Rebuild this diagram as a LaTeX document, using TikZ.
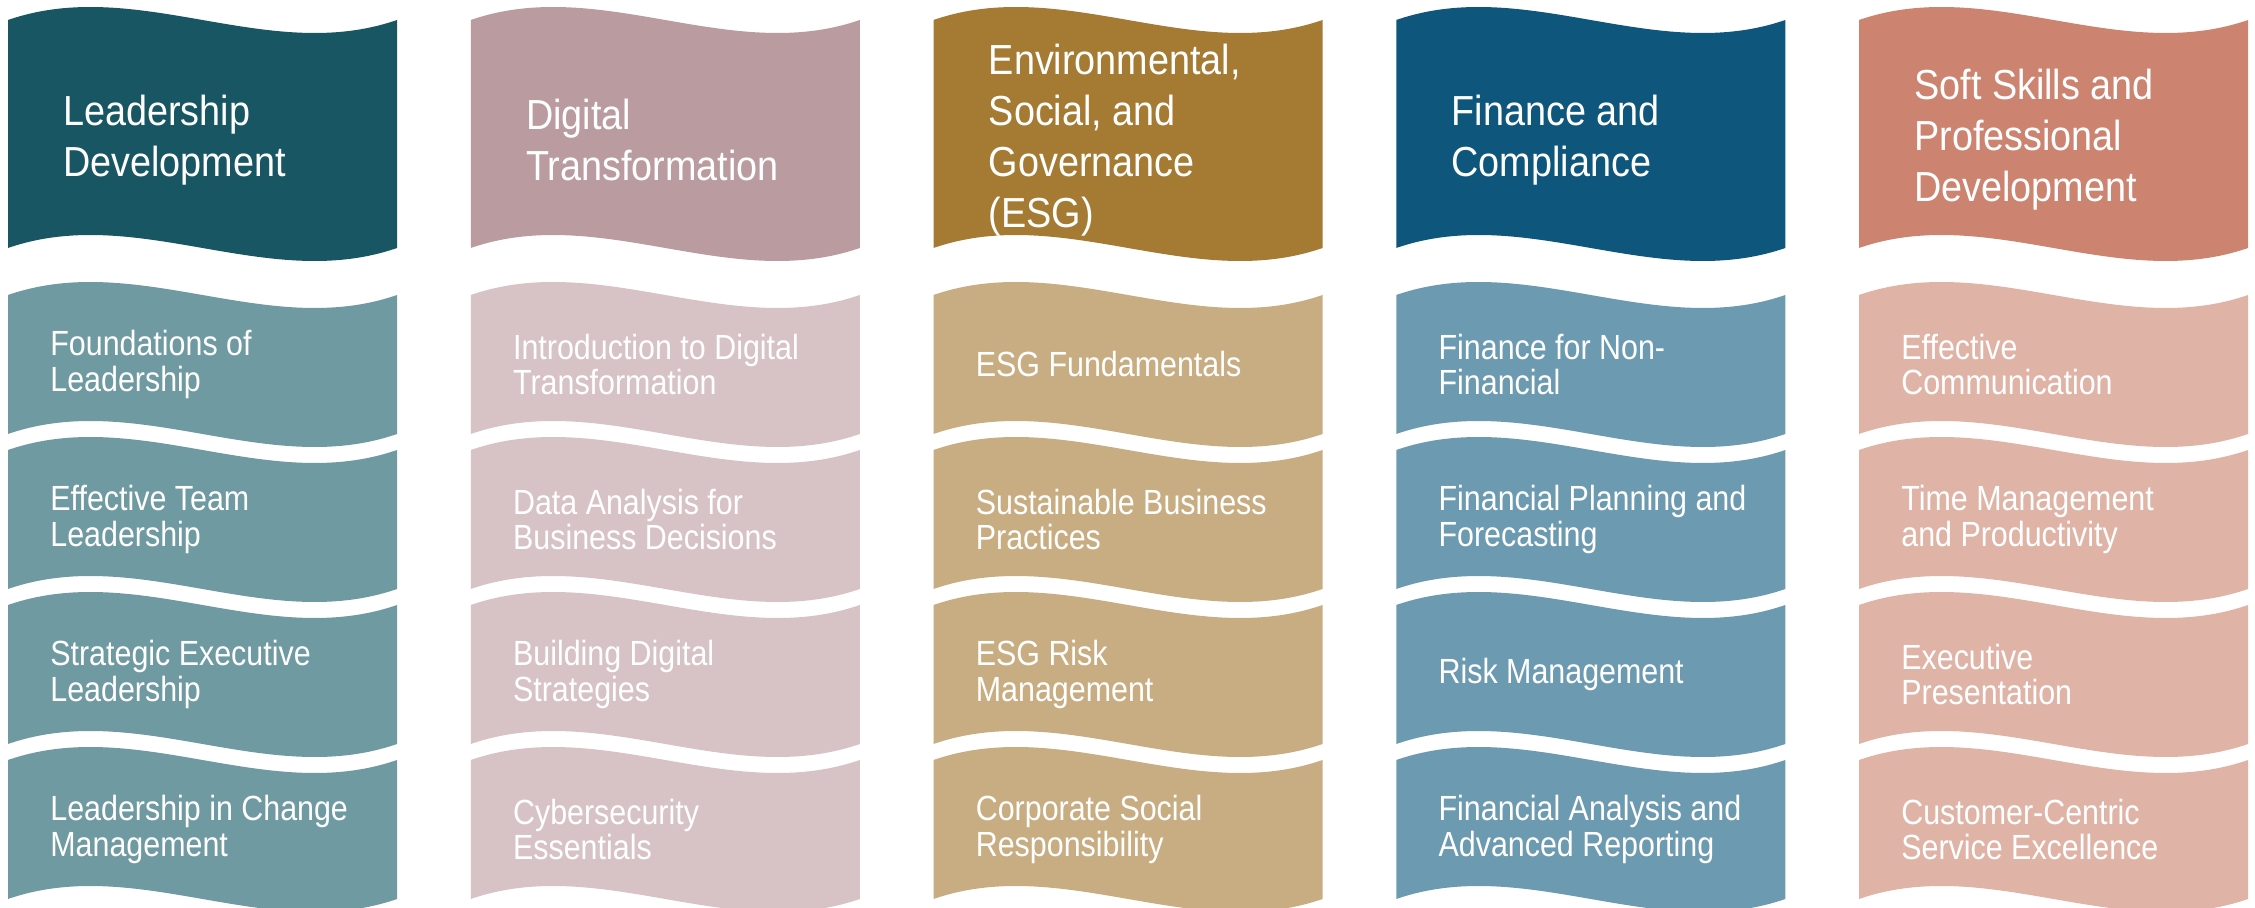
\documentclass[tikz,border=0pt]{standalone}
\usepackage{fontspec}
\setmainfont{Liberation Sans}[FakeStretch=0.9]
\newfontfamily\itemfont{Liberation Sans}[FakeStretch=0.87]
\usetikzlibrary{positioning}

\definecolor{ldhead}{HTML}{185663}
\definecolor{ldbody}{HTML}{709AA1}
\definecolor{dthead}{HTML}{BA9B9F}
\definecolor{dtbody}{HTML}{D7C3C5}
\definecolor{esghead}{HTML}{A57A33}
\definecolor{esgbody}{HTML}{C8AD82}
\definecolor{fchead}{HTML}{0E567C}
\definecolor{fcbody}{HTML}{6C9AB0}
\definecolor{sshead}{HTML}{CC8370}
\definecolor{ssbody}{HTML}{DFB4A7}

\tikzset{
  headtext/.style={anchor=west,align=left,text=white,inner sep=0pt,
    font=\fontsize{23.9}{29}\selectfont},
  itemtext/.style={anchor=west,align=left,text=white,inner sep=0pt,
    font=\itemfont\fontsize{19.9}{20}\selectfont}
}

\begin{document}
\begin{tikzpicture}[x=0.02cm,y=-0.02cm,line join=round]
\useasboundingbox (0,0) rectangle (2255,908);

%one column per track: header flag, then four course flags
\foreach \hd/\bd/\htext/\items [count=\i from 0] in {
  ldhead/ldbody/{Leadership\\Development}/{{Foundations of\\Leadership},{Effective Team\\Leadership},{Strategic Executive\\Leadership},{Leadership in Change\\Management}},
  dthead/dtbody/{Digital\\Transformation}/{{Introduction to Digital\\Transformation},{Data Analysis for\\Business Decisions},{Building Digital\\Strategies},{Cybersecurity\\Essentials}},
  esghead/esgbody/{Environmental,\\Social, and\\Governance\\(ESG)}/{{ESG Fundamentals},{Sustainable Business\\Practices},{ESG Risk\\Management},{Corporate Social\\Responsibility}},
  fchead/fcbody/{Finance and\\Compliance}/{{Finance for Non-\\Financial},{Financial Planning and\\Forecasting},{Risk Management},{Financial Analysis and\\Advanced Reporting}},
  sshead/ssbody/{Soft Skills and\\Professional\\Development}/{{Effective\\Communication},{Time Management\\and Productivity},{Executive\\Presentation},{Customer-Centric\\Service Excellence}}}
{
  \pgfmathsetmacro{\cx}{8+462.75*\i}
  %header flag
  \fill[\hd] (\cx,20) .. controls +(130,-45) and +(-130,45) .. (\cx+389,20)
     -- (\cx+389,248) .. controls +(-130,45) and +(130,-45) .. (\cx,248) -- cycle;
  \node[headtext] (head\i) at (\cx+55,140) {\htext};

  %course flags
  \foreach \t [count=\j from 0] in \items {
    \pgfmathsetmacro{\cy}{295+155*\j}
    \fill[\bd] (\cx,\cy) .. controls +(130,-45) and +(-130,45) .. (\cx+389,\cy)
       -- (\cx+389,\cy+139) .. controls +(-130,45) and +(130,-45) .. (\cx,\cy+139) -- cycle;
    \node[itemtext] (item\i-\j) at (\cx+42,\cy+69.5) {\t};
  }
}
\end{tikzpicture}
\end{document}
